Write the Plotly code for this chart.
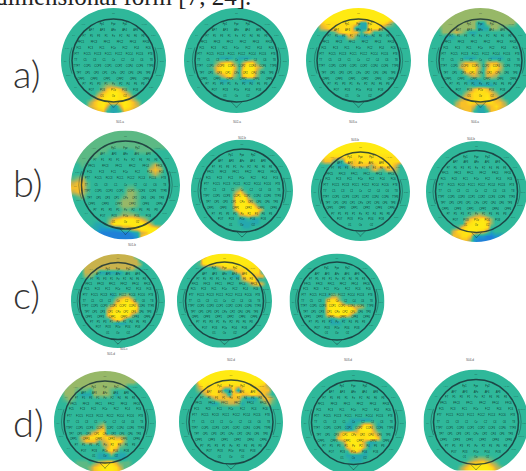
import plotly.graph_objects as go

W, H = 526, 471
GRID = 24
BACKGROUND_LEVEL = 3

LEVEL_COLORS = ["#1f80d8", "#1c98cc", "#25a8ae", "#2fb89a", "#5cb984",
                "#97b868", "#c8b24c", "#f8c028", "#ffde16", "#ffea12"]

# Activity: (grid row from top, first grid column, levels)
A1 = [(17,9,"4554"),(18,9,"578875"),(19,8,"57899875"),(20,7,"5789998975"),(21,6,"578988889875"),
      (22,6,"678962269876"),(23,7,"6773223776")]
A2 = [(11,8,"222"),(11,12,"222"),(12,7,"57885"),(12,13,"6885"),(13,6,"478997"),(13,13,"79975"),
      (14,7,"78996"),(14,13,"8996"),(15,8,"5785"),(15,13,"7885"),(16,8,"22"),(16,13,"222")]
A3 = [(0,4,"9999999999999999"),(1,3,"99999999999999999"),(2,3,"899999999999999987"),
      (3,2,"578888888822888875"),(4,3,"678888872228885"),(5,4,"334788773"),(5,13,"67"),(6,7,"22674222")]
A4 = [(0,5,"55555555555555"),(1,3,"555555555555555555"),(2,2,"55555555555555555555"),
      (3,1,"45555555552255555553"),(4,2,"4555555552225544"),(5,2,"355565422"),(6,4,"22"),
      (11,8,"222"),(11,14,"222"),(12,7,"57775"),(12,13,"6775"),(13,7,"67886"),(13,13,"6886"),
      (14,8,"7885"),(14,13,"7875"),(15,9,"565"),(15,13,"665"),(16,9,"222"),(17,10,"22222"),
      (18,9,"578875"),(19,8,"57888875"),(20,7,"5778889775"),(21,6,"577888888775"),
      (22,6,"677762267876"),(23,7,"6773223776")]
B1 = [(0,4,"4444444444444444"),(1,3,"444444444444444444"),(2,2,"44444444444444444444"),
      (3,2,"44444444444444444444"),(4,1,"44444443333334444"),(5,0,"34444433"),(6,1,"44433"),(7,1,"34"),
      (10,0,"4563"),(11,0,"6774"),(12,0,"7774"),(13,0,"6764"),(14,1,"453"),
      (7,17,"464"),(8,16,"36763"),(9,17,"464"),
      (12,12,"44"),(13,12,"554"),(14,11,"4554"),(15,10,"45554"),(16,10,"45554"),(17,10,"3443"),
      (18,9,"345554"),(19,8,"578999875"),(20,8,"6999999986"),(20,5,"22"),
      (21,4,"22111125"),(21,12,"57899997"),(22,5,"1000000012"),(22,15,"67997"),
      (23,6,"000000001"),(23,15,"797")]
B2 = [(11,10,"45"),(12,10,"685"),(13,10,"8895"),(14,10,"89975"),(15,10,"899985"),(16,10,"7999986"),
      (17,11,"78987"),(18,11,"22322"),(19,11,"22222"),(20,12,"22")]
B3 = [(0,4,"9999999999999999"),(1,3,"999999999999999999"),(2,2,"89999999999999999998"),
      (3,1,"578888888888888888887"),(4,2,"577433887888888888887"),(5,6,"222577775788886"),
      (6,13,"35754775"),(7,19,"34")]
B4 = [(17,10,"45654"),(18,9,"5788975"),(19,9,"7899985"),(20,7,"47899998"),(21,6,"6889998752"),
      (22,6,"77887211001122"),(23,7,"67751000000122")]
C1 = [(0,4,"666666666666"),(1,3,"66666666666666"),(2,3,"666666666666665"),(3,3,"66666666666664"),
      (4,3,"6655222222"),(5,3,"5542"),(10,10,"2"),(10,12,"455"),(11,11,"57886"),(12,10,"4789986"),(13,9,"57899998"),
      (14,9,"78999987"),(15,9,"7999985"),(16,10,"6885"),(17,11,"222")]
C2 = [(0,7,"99999999999"),(1,6,"9999999999999"),(2,5,"48999999999999987"),(3,10,"57888888888"),
      (4,13,"25778888"),(5,14,"22788777"),(6,16,"5788"),(7,18,"5786")]
C3 = [(10,9,"2554"),(11,9,"7885"),(12,9,"88985"),(13,9,"8999988665"),(14,9,"89999998"),
      (15,9,"7899986"),(16,10,"2342"),(17,10,"222")]
D1 = [(0,5,"55555555555555"),(1,3,"555555555555555555"),(2,2,"555555555555555554"),
      (3,2,"455555555555555"),(4,2,"555444355554"),(5,2,"5553222555542"),(6,2,"4543"),(7,3,"43"),
      (12,10,"45"),(13,9,"3673"),(14,8,"57883"),(15,6,"67888788665"),(16,6,"57774678885"),(17,11,"568854"),
      (18,11,"37863"),(19,10,"2225222"),(20,10,"2222222"),(21,9,"4678864"),(22,8,"57899986"),
      (23,8,"578999875"),(21,5,"444"),(22,5,"444"),(21,16,"44"),(22,16,"44")]
D2 = [(0,5,"99999999999999"),(1,4,"9999999999999999"),(2,4,"9999999999999999"),
      (3,4,"7988888888888887"),(3,20,"5"),(4,4,"57788722827888777"),(5,5,"5788762787788775"),
      (6,7,"577777742224775"),(7,7,"22456652"),(7,19,"464"),(8,20,"3")]
D3 = [(11,11,"22222"),(12,10,"22358852"),(13,10,"22589963"),(14,8,"5889788875"),(15,8,"7899988997"),
      (16,9,"58998622"),(17,10,"789962"),(18,10,"37862"),(19,10,"22222"),(20,11,"222")]
D4 = [(20,10,"456654"),(21,9,"57889865"),(22,8,"5789999865"),(23,7,"45789999875")]

MAP_NAMES = ["a1","a2","a3","a4","b1","b2","b3","b4","c1","c2","c3","d1","d2","d3","d4"]
MAP_ACTIVITY = [A1,A2,A3,A4,B1,B2,B3,B4,C1,C2,C3,D1,D2,D3,D4]

# Centre x, centre y, radius, head radius (pixels) and lowest visible y
MAP_CX = [113.5,236.5,358.5,480.5,125.5,242,360.5,476.5,118,224.5,337,105,231,353.5,476]
MAP_CY = [60.5,60.5,60.5,60.5,185,190.5,191.5,191.5,301,301,301,422,422,422.5,422]
MAP_R = [52.5,52.5,52.5,52.5,54.5,51,49.5,50.5,47,47.5,47.5,51,52,52.5,52.5]
MAP_HEAD = [41.5,41.5,41.5,41.5,44,41.5,39.5,41,38.5,39,39,41,42,42,42.5]
MAP_BOTTOM = [471,471,471,471,471,471,471,471,471,348,348,471,471,471,471]

CAPTION_TEXT = ["S01-a","S02-a","S03-a","S04-a","S01-b","S02-b","S03-b","S04-b","S01-c","","","S01-d","S02-d","S03-d","S04-d"]
CAPTION_Y = [118,118,118,118,245,134,136,135,353,0,0,358,364,364,364]

ROW_LABELS = ["a)","b)","c)","d)"]
ROW_LABEL_Y = [73,182,294,422]

# Electrode rows: vertical position, half width, names (unit disc)
ELECTRODE_ROWS = [
    (0.68,0.22,["Fp1","Fpz","Fp2"]),
    (0.57,0.42,["AF7","AF3","AFz","AF4","AF8"]),
    (0.46,0.56,["F7","F5","F3","F1","Fz","F2","F4","F6","F8"]),
    (0.35,0.62,["FFC5","FFC3","FFC1","FFC2","FFC4","FFC6"]),
    (0.24,0.66,["FC5","FC3","FC1","FCz","FC2","FC4","FC6"]),
    (0.12,0.7,["FT7","FCC5","FCC3","FCC1","FCC2","FCC4","FCC6","FT8"]),
    (0.0,0.72,["T7","C5","C3","C1","Cz","C2","C4","C6","T8"]),
    (-0.12,0.7,["TTP7","CCP5","CCP3","CCP1","CCP2","CCP4","CCP6","TTP8"]),
    (-0.24,0.66,["TP7","CP5","CP3","CP1","CPz","CP2","CP4","CP6","TP8"]),
    (-0.35,0.62,["CPP5","CPP3","CPP1","CPP2","CPP4","CPP6"]),
    (-0.46,0.56,["P7","P5","P3","P1","Pz","P2","P4","P6","P8"]),
    (-0.57,0.42,["PO7","PO3","POz","PO4","PO8"]),
    (-0.68,0.22,["O1","Oz","O2"]),
]
OUTER_NAMES = ["AF9","F9","FT9","T9","TP9","P9","AF10","F10","FT10","T10","TP10","P10","Nz","Iz"]
OUTER_X = [-0.58,-0.76,-0.88,-0.92,-0.86,-0.72,0.58,0.76,0.88,0.92,0.86,0.72,0.0,0.0]
OUTER_Y = [0.68,0.48,0.24,-0.02,-0.28,-0.52,0.68,0.48,0.24,-0.02,-0.28,-0.52,0.9,-0.9]

fig = go.Figure()
shapes, annotations, axes = [], [], {}

cell_centres = [-1 + (i + 0.5) * 2 / GRID for i in range(GRID)]
colorscale = [[i / 9, c] for i, c in enumerate(LEVEL_COLORS)]

e_x, e_y, e_t = [], [], []
for v, w, names in ELECTRODE_ROWS:
    n = len(names)
    for i, name in enumerate(names):
        e_x.append(w * (2 * i / (n - 1) - 1))
        e_y.append(v)
        e_t.append(name)

K = 0.5523
mask = ("M -1.2,-1.2 L 1.2,-1.2 L 1.2,1.2 L -1.2,1.2 Z "
        f"M -1,0 C -1,{K} -{K},1 0,1 C {K},1 1,{K} 1,0 C 1,-{K} {K},-1 0,-1 C -{K},-1 -1,-{K} -1,0 Z")

for m, activity in enumerate(MAP_ACTIVITY):
    cx, cy, R, bottom = MAP_CX[m], MAP_CY[m], MAP_R[m], MAP_BOTTOM[m]
    head = MAP_HEAD[m] / R
    suffix = "" if m == 0 else str(m + 1)
    xn, yn = f"x{suffix}", f"y{suffix}"

    left, right = max(cx - R - 3, 0), min(cx + R + 3, W)
    top, low = max(cy - R - 3, 0), min(cy + R + 3, H, bottom)
    axes[f"xaxis{suffix}"] = dict(domain=[left / W, right / W], range=[(left - cx) / R, (right - cx) / R],
                                  visible=False, fixedrange=True, anchor=yn)
    axes[f"yaxis{suffix}"] = dict(domain=[1 - low / H, 1 - top / H], range=[(cy - low) / R, (cy - top) / R],
                                  visible=False, fixedrange=True, anchor=xn)

    grid = [[BACKGROUND_LEVEL] * GRID for _ in range(GRID)]
    for row, col, levels in activity:
        for j, ch in enumerate(levels):
            if col + j < GRID:
                grid[row][col + j] = int(ch)
    grid.reverse()

    fig.add_trace(go.Heatmap(z=grid, x=cell_centres, y=cell_centres, zmin=0, zmax=9, zsmooth="best",
                             colorscale=colorscale, showscale=False, hoverinfo="skip",
                             name=MAP_NAMES[m], xaxis=xn, yaxis=yn))
    fig.add_trace(go.Scatter(x=e_x, y=e_y, text=e_t, mode="text", showlegend=False, hoverinfo="skip",
                             textfont=dict(size=2.6, color="rgba(10,30,30,0.9)", family="Liberation Sans"),
                             xaxis=xn, yaxis=yn))
    fig.add_trace(go.Scatter(x=OUTER_X, y=OUTER_Y, text=OUTER_NAMES, mode="text", showlegend=False, hoverinfo="skip",
                             textfont=dict(size=2.5, color="rgba(15,35,35,0.55)", family="Liberation Sans"),
                             xaxis=xn, yaxis=yn))

    shapes.append(dict(type="path", path=mask, xref=xn, yref=yn, fillcolor="white", line=dict(width=0),
                       fillrule="evenodd", layer="above"))
    shapes.append(dict(type="circle", xref=xn, yref=yn, x0=-head, x1=head, y0=-head, y1=head,
                       line=dict(color="rgba(25,50,55,0.85)", width=1.5), layer="above"))
    shapes.append(dict(type="path", xref=xn, yref=yn, layer="above",
                       path=f"M -0.1,{-head} L 0,{-head-0.1} L 0.1,{-head} ",
                       line=dict(color="rgba(25,50,55,0.55)", width=0.8)))
    for side in (-1, 1):
        shapes.append(dict(type="path", xref=xn, yref=yn, layer="above",
                           path=f"M {side*head},0.25 Q {side*(head+0.1)},0 {side*head},-0.25",
                           line=dict(color="rgba(25,50,55,0.5)", width=0.8)))

    if CAPTION_TEXT[m]:
        annotations.append(dict(x=cx / W, y=1 - CAPTION_Y[m] / H, xref="paper", yref="paper",
                                text=CAPTION_TEXT[m], showarrow=False,
                                font=dict(size=3, color="#555", family="Liberation Sans")))

for text, y in zip(ROW_LABELS, ROW_LABEL_Y):
    annotations.append(dict(x=11 / W, y=1 - y / H, xref="paper", yref="paper", text=text, showarrow=False,
                            xanchor="left", yanchor="middle",
                            font=dict(size=38, color="#333", family="Lato", weight=300)))

annotations.append(dict(x=253 / W, y=1 + 4 / H, xref="paper", yref="paper", text="dimensional form [7, 24].",
                        showarrow=False, xanchor="right", yanchor="middle",
                        font=dict(size=25, color="#222", family="Liberation Serif")))

fig.update_layout(width=W, height=H, margin=dict(l=0, r=0, t=0, b=0), paper_bgcolor="white",
                  plot_bgcolor="white", showlegend=False, shapes=shapes, annotations=annotations, **axes)
fig.write_html("out.html", config=dict(displayModeBar=False),
               post_script="document.body.style.margin='0';document.documentElement.style.overflow='hidden';")
